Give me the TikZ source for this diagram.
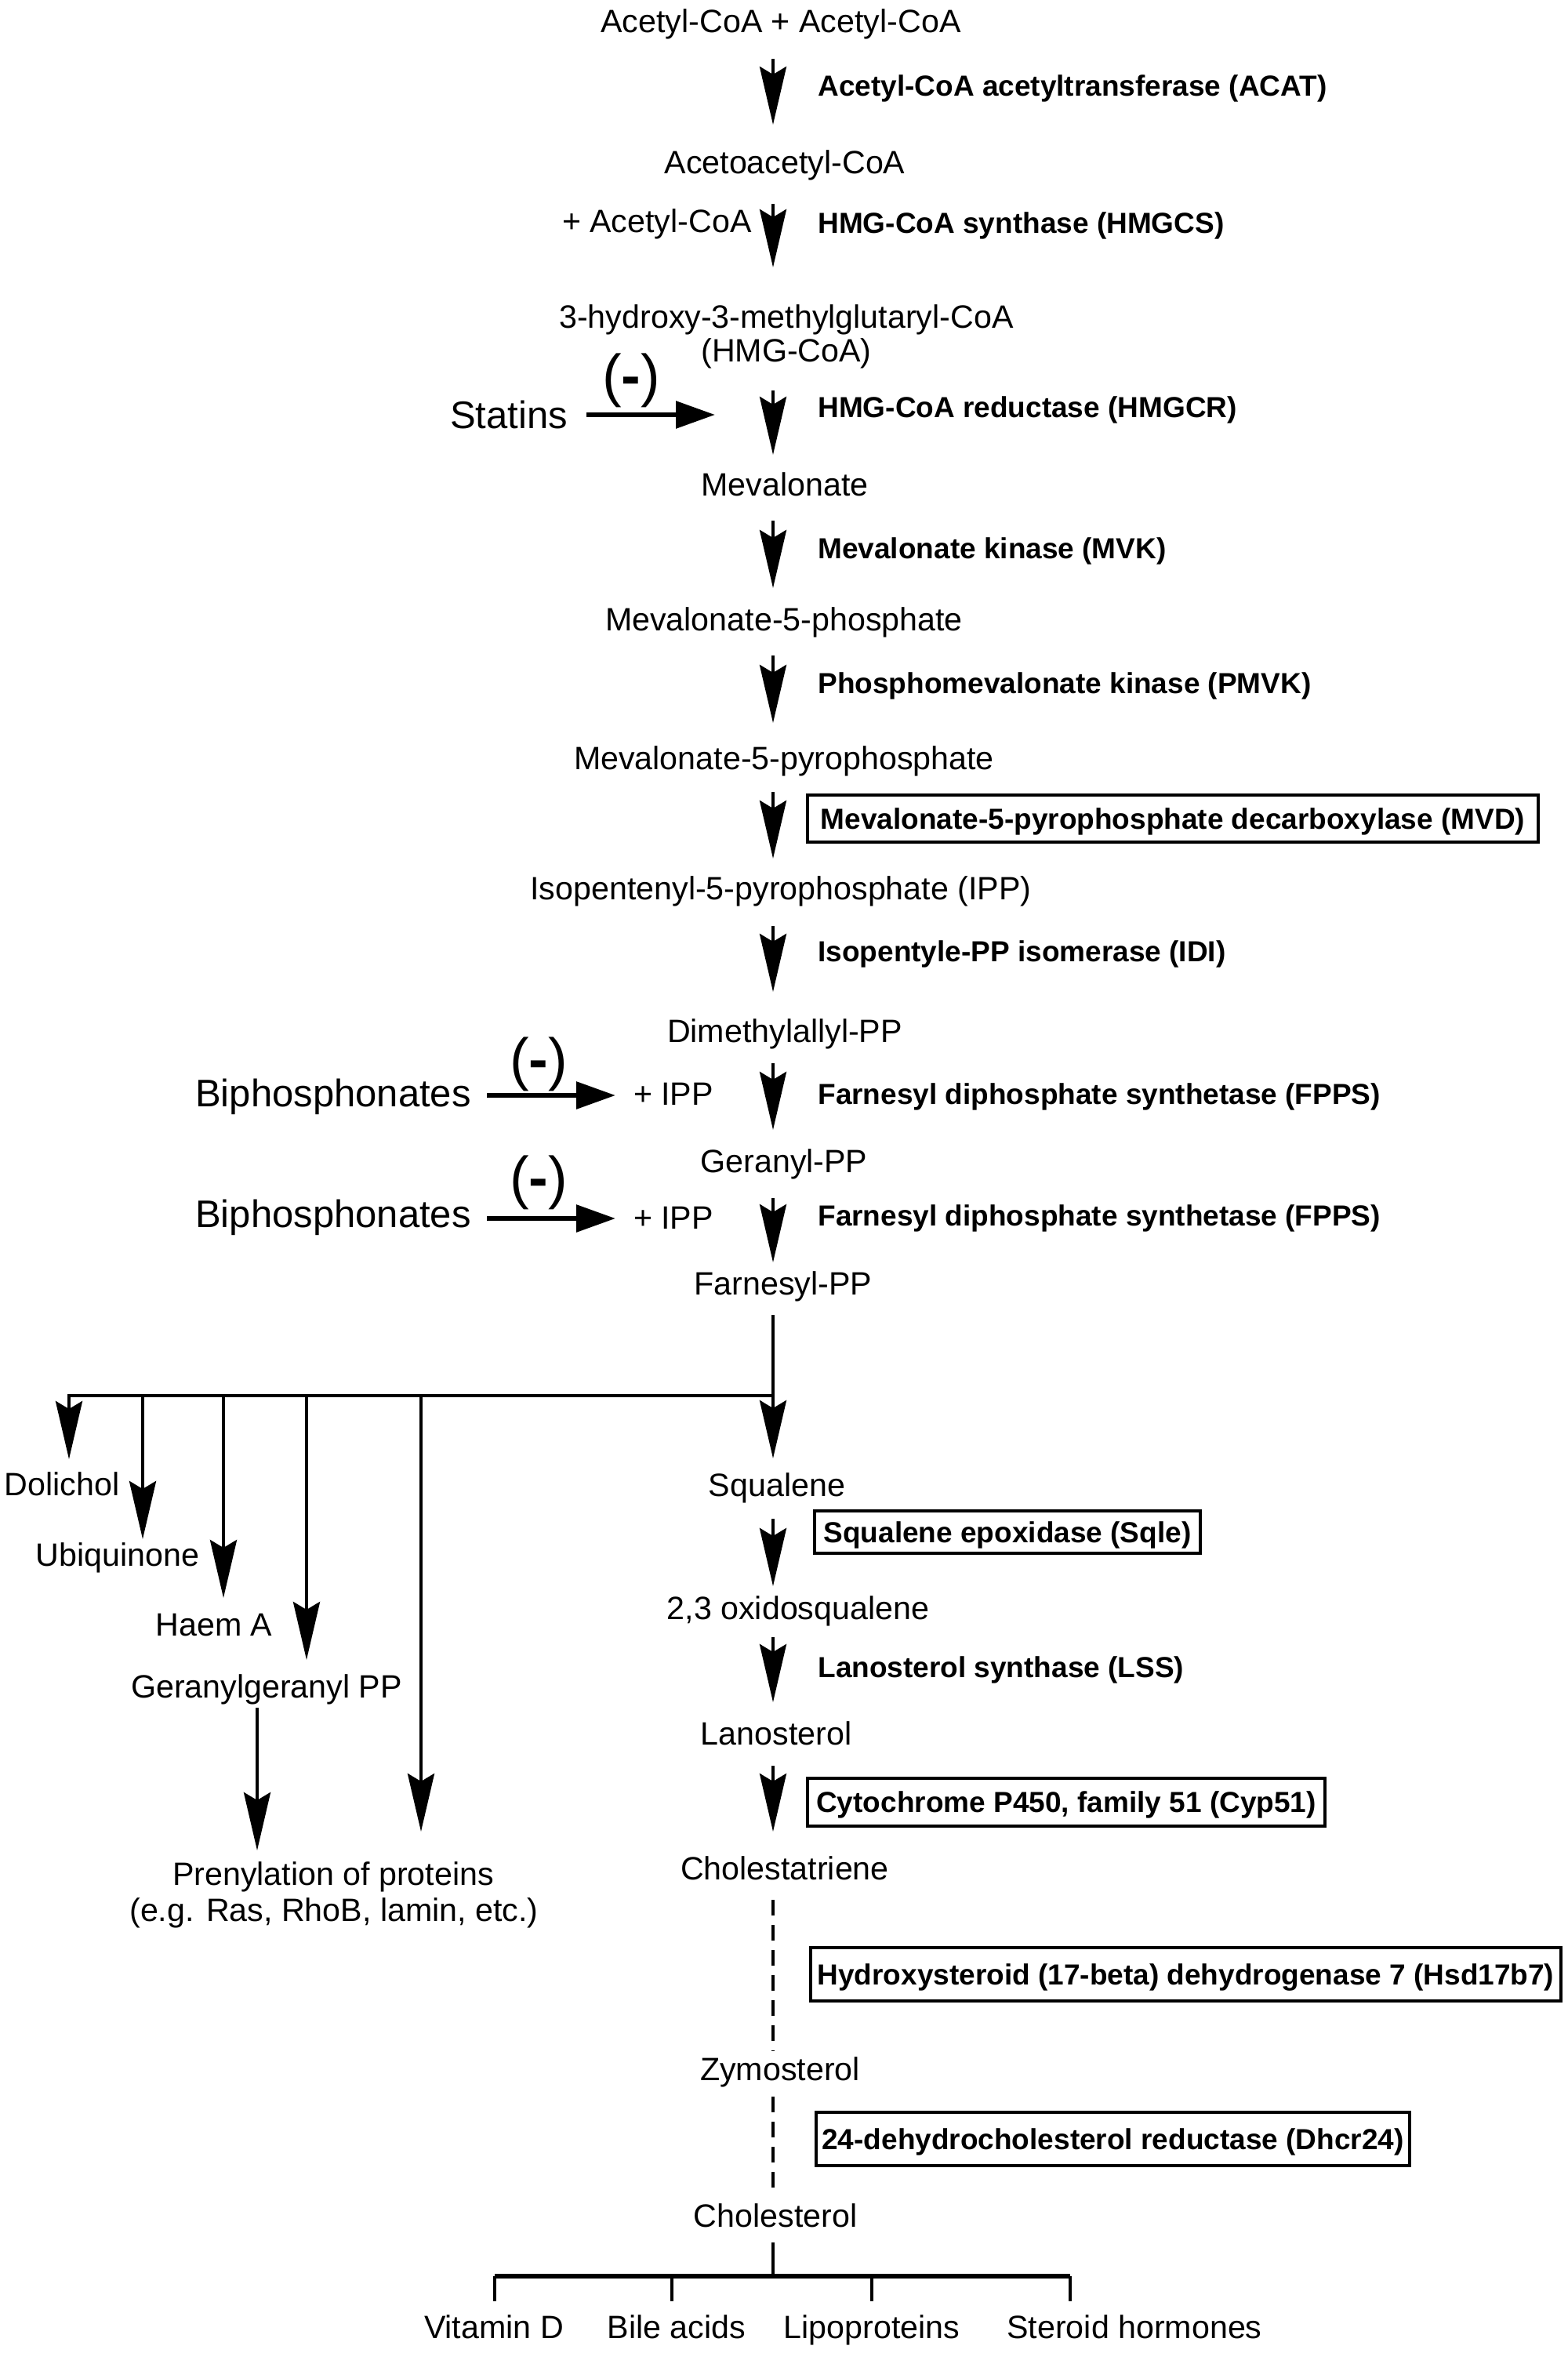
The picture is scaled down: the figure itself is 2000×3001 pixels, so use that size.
\documentclass[tikz,border=0pt]{standalone}
\usepackage{fontspec}
\setmainfont{Liberation Sans}
\usetikzlibrary{arrows.meta}
\begin{document}
\begin{tikzpicture}[x=0.5pt,y=-0.5pt,
  met/.style={inner sep=0pt, font=\fontsize{20.6}{24}\selectfont, text height=14.8pt, text depth=0pt},
  enz/.style={inner sep=0pt, anchor=west, font=\bfseries\fontsize{18.5}{22}\selectfont, text height=13.3pt, text depth=0pt},
  enzbox/.style={inner sep=0pt, draw, line width=2pt, font=\bfseries\fontsize{18.5}{22}\selectfont, text height=13.3pt, text depth=0pt},
  big/.style={inner sep=0pt, font=\fontsize{24.5}{28}\selectfont, text height=17.6pt, text depth=0pt},
  minus/.style={inner sep=0pt, font=\fontsize{37}{42}\selectfont},
  stepArrow/.style={line width=2.25pt, -{Stealth[length=37pt,width=17pt,inset=5pt]}},
  inhArrow/.style={line width=3pt, -{Triangle[length=25pt,width=17pt]}},
  plainline/.style={line width=2.2pt},
  dashline/.style={line width=2pt, dash pattern=on 10pt off 6pt},
]
\fill[white] (0,0) rectangle (2000,3001);
\useasboundingbox (0,0) rectangle (2000,3001);

% ---- main metabolites ----
\node[met] (n1) at (996,27) {Acetyl-CoA + Acetyl-CoA};
\node[met] (n2) at (1001,207) {Acetoacetyl-CoA};
\node[met] (n3) at (1003,404) {3-hydroxy-3-methylglutaryl-CoA};
\node[met] (n3b) at (1003,447) {(HMG-CoA)};
\node[met] (n4) at (1001,618) {Mevalonate};
\node[met] (n5) at (1000,790) {Mevalonate-5-phosphate};
\node[met] (n6) at (1000,967) {Mevalonate-5-pyrophosphate};
\node[met] (n7) at (996,1133) {Isopentenyl-5-pyrophosphate (IPP)};
\node[met] (n8) at (1001,1315) {Dimethylallyl-PP};
\node[met] (n9) at (1000,1481) {Geranyl-PP};
\node[met] (n10) at (999,1637) {Farnesyl-PP};
\node[met] (sq) at (991,1894) {Squalene};
\node[met] (ox) at (1018,2051) {2,3 oxidosqualene};
\node[met] (lan) at (990,2211) {Lanosterol};
\node[met] (chtr) at (1001,2383) {Cholestatriene};
\node[met] (zym) at (995,2639) {Zymosterol};
\node[met] (chol) at (989,2826) {Cholesterol};

% ---- arrow coordinates ----
\coordinate (a1s) at (986,75);   \coordinate (a1e) at (986,159);
\coordinate (a2s) at (986,260);  \coordinate (a2e) at (986,341);
\coordinate (a3s) at (986,498);  \coordinate (a3e) at (986,580);
\coordinate (a4s) at (986,664);  \coordinate (a4e) at (986,750);
\coordinate (a5s) at (986,836);  \coordinate (a5e) at (986,922);
\coordinate (a6s) at (986,1010); \coordinate (a6e) at (986,1095);
\coordinate (a7s) at (986,1181); \coordinate (a7e) at (986,1265);
\coordinate (a8s) at (986,1356); \coordinate (a8e) at (986,1441);
\coordinate (a9s) at (986,1528); \coordinate (a9e) at (986,1610);
\coordinate (fs) at (986,1677);  \coordinate (jn) at (986,1780); \coordinate (fe) at (986,1860);
\coordinate (a10s) at (986,1937); \coordinate (a10e) at (986,2023);
\coordinate (a11s) at (986,2088); \coordinate (a11e) at (986,2171);
\coordinate (a12s) at (986,2252); \coordinate (a12e) at (986,2336);
\coordinate (d1s) at (986,2423); \coordinate (d1e) at (986,2616);
\coordinate (d2s) at (986,2674); \coordinate (d2e) at (986,2790);
\coordinate (cs) at (986,2860);  \coordinate (cj) at (986,2903);

\foreach \i in {1,...,12} {\draw[stepArrow] (a\i s) -- (a\i e);}
\draw[stepArrow] (fs) -- (fe);
\draw[dashline] (d1s) -- (d1e);
\draw[dashline] (d2s) -- (d2e);

% ---- enzymes ----
\node[enz] (e1) at (1043,109) {Acetyl-CoA acetyltransferase (ACAT)};
\node[enz] (e2) at (1043,284) {HMG-CoA synthase (HMGCS)};
\node[enz] (e3) at (1043,519) {HMG-CoA reductase (HMGCR)};
\node[enz] (e4) at (1043,699) {Mevalonate kinase (MVK)};
\node[enz] (e5) at (1043,871) {Phosphomevalonate kinase (PMVK)};
\node[enzbox, minimum width=466pt, minimum height=30pt] (e6) at (1496,1044) {Mevalonate-5-pyrophosphate decarboxylase (MVD)};
\node[enz] (e7) at (1043,1213) {Isopentyle-PP isomerase (IDI)};
\node[enz] (e8) at (1043,1395) {Farnesyl diphosphate synthetase (FPPS)};
\node[enz] (e9) at (1043,1550) {Farnesyl diphosphate synthetase (FPPS)};
\node[enzbox, minimum width=246pt, minimum height=27pt] (e10) at (1285,1954) {Squalene epoxidase (Sqle)};
\node[enz] (e11) at (1043,2126) {Lanosterol synthase (LSS)};
\node[enzbox, minimum width=330pt, minimum height=30.5pt] (e12) at (1360,2298) {Cytochrome P450, family 51 (Cyp51)};
\node[enzbox, minimum width=478.5pt, minimum height=34pt] (e13) at (1512.5,2518) {Hydroxysteroid (17-beta) dehydrogenase 7 (Hsd17b7)};
\node[enzbox, minimum width=378.5pt, minimum height=34pt] (e14) at (1419.5,2728) {24-dehydrocholesterol reductase (Dhcr24)};

% ---- side substrates and inhibitors ----
\node[met, anchor=east] (acc) at (959,282) {+ Acetyl-CoA};

\node[big] (stat) at (649,529) {Statins};
\coordinate (statS) at (748,529);
\coordinate (statT) at (912,529);
\draw[inhArrow] (statS) -- (statT);
\node[minus] (m1) at (805,485) {(\textbf{-})};

\node[big] (bp1) at (425,1394) {Biphosphonates};
\node[met] (ipp1) at (859,1395) {+ IPP};
\coordinate (bp1s) at (621,1397);
\coordinate (bp1e) at (785,1397);
\draw[inhArrow] (bp1s) -- (bp1e);
\node[minus] (m2) at (687,1357) {(\textbf{-})};

\node[big] (bp2) at (425,1548) {Biphosphonates};
\node[met] (ipp2) at (859,1553) {+ IPP};
\coordinate (bp2s) at (621,1554);
\coordinate (bp2e) at (785,1554);
\draw[inhArrow] (bp2s) -- (bp2e);
\node[minus] (m3) at (687,1508) {(\textbf{-})};

% ---- branches from Farnesyl-PP ----
\coordinate (b1) at (88,1780);
\coordinate (b2) at (182,1780);
\coordinate (b3) at (285,1780);
\coordinate (b4) at (391,1780);
\coordinate (b5) at (537,1780);
\coordinate (t1) at (88,1861);
\coordinate (t2) at (182,1963);
\coordinate (t3) at (285,2038);
\coordinate (t4) at (391,2117);
\coordinate (t5) at (537,2336);

\node[met] (dol) at (79,1893) {Dolichol};
\node[met] (ubi) at (150,1983) {Ubiquinone};
\node[met] (haem) at (273,2072) {Haem A};
\node[met] (ggpp) at (340,2151) {Geranylgeranyl PP};
\node[met] (pren) at (425,2390) {Prenylation of proteins};
\node[met] (pren2) at (426,2436) {(e.g. Ras, RhoB, lamin, etc.)};

\draw[stepArrow] (jn) -- (b1) -- (t1);
\draw[stepArrow] (b2) -- (t2);
\draw[stepArrow] (b3) -- (t3);
\draw[stepArrow] (b4) -- (t4);
\draw[stepArrow] (b5) -- (t5);
\coordinate (gs) at (328,2178);
\coordinate (ge) at (328,2360);
\draw[stepArrow] (gs) -- (ge);

% ---- cholesterol products ----
\draw[plainline] (cs) -- (cj);
\coordinate (p1) at (631,2903); \coordinate (p2) at (857,2903);
\coordinate (p3) at (1112,2903); \coordinate (p4) at (1365,2903);
\coordinate (q1) at (631,2935); \coordinate (q2) at (857,2935);
\coordinate (q3) at (1112,2935); \coordinate (q4) at (1365,2935);
\draw[line width=3pt] (p1) -- (p4);
\draw[plainline] (p1) -- (q1);
\draw[plainline] (p2) -- (q2);
\draw[plainline] (p3) -- (q3);
\draw[plainline] (p4) -- (q4);
\node[met] (vd) at (630,2968) {Vitamin D};
\node[met] (ba) at (863,2968) {Bile acids};
\node[met] (lp) at (1112,2968) {Lipoproteins};
\node[met] (sh) at (1447,2968) {Steroid hormones};
\end{tikzpicture}
\end{document}
